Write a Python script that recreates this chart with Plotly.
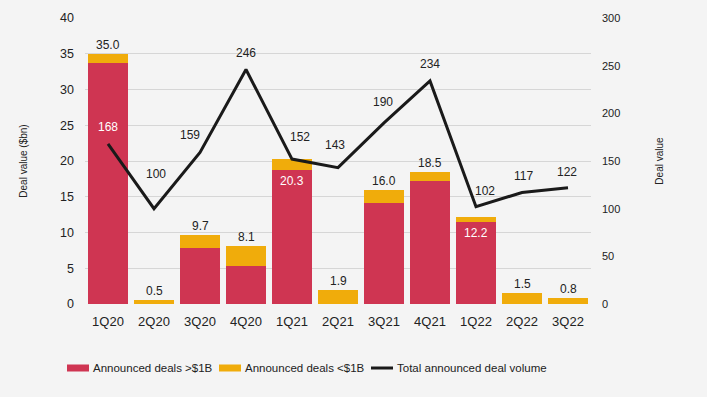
import plotly.graph_objects as go

quarters = ["1Q20", "2Q20", "3Q20", "4Q20", "1Q21", "2Q21", "3Q21", "4Q21", "1Q22", "2Q22", "3Q22"]
large_deals = [33.7, 0.0, 7.8, 5.3, 18.7, 0.0, 14.1, 17.2, 11.5, 0.0, 0.0]
small_deals = [1.3, 0.5, 1.9, 2.8, 1.6, 1.9, 1.9, 1.3, 0.7, 1.5, 0.8]
total_value = [35.0, 0.5, 9.7, 8.1, 20.3, 1.9, 16.0, 18.5, 12.2, 1.5, 0.8]
deal_volume = [168, 100, 159, 246, 152, 143, 190, 234, 102, 117, 122]
series_names = ["Announced deals >$1B", "Announced deals <$1B", "Total announced deal volume"]

RED = "#CF3552"
YELLOW = "#F0AC0B"
BLACK = "#1a1a1a"
BG = "#F4F4F4"
FONT = "Liberation Sans, Arial, sans-serif"

W, H = 707, 397
ML, MR, MT, MB = 85, 116, 18, 93
PW, PH = W - ML - MR, H - MT - MB


def px_x(px):
    return (px - ML) / PW


def px_y(py):
    return (H - MB - py) / PH


fig = go.Figure()
fig.add_trace(go.Bar(x=quarters, y=large_deals, name=series_names[0], showlegend=False,
                     marker=dict(color=RED, line=dict(width=0))))
fig.add_trace(go.Bar(x=quarters, y=small_deals, name=series_names[1], showlegend=False,
                     marker=dict(color=YELLOW, line=dict(width=0))))
fig.add_trace(go.Scatter(x=quarters, y=deal_volume, name=series_names[2],
                         mode="lines", line=dict(color=BLACK, width=3), yaxis="y2",
                         showlegend=False))

# total value labels (styling offsets)
bar_shift = [9, 9, 9, 9, -22, 9, 9, 9, -16, 9, 9]
bar_color = ["#222", "#222", "#222", "#222", "white", "#222", "#222", "#222", "white", "#222", "#222"]
for q, v, s, c in zip(quarters, total_value, bar_shift, bar_color):
    fig.add_annotation(x=q, y=v, xref="x", yref="y", text=f"{v:.1f}", showarrow=False,
                       yshift=s, font=dict(size=12, color=c, family=FONT))

# deal volume labels
vol_dx = [0, 2, -10, 0, 8, -3, -1, 0, 9, 1, -1]
vol_dy = [17, 35, 17, 16, 22, 23, 21, 17, 16, 16, 16]
vol_color = ["white"] + ["#222"] * 10
for q, v, dx, dy, c in zip(quarters, deal_volume, vol_dx, vol_dy, vol_color):
    fig.add_annotation(x=q, y=v, xref="x", yref="y2", text=str(v), showarrow=False,
                       xshift=dx, yshift=dy, font=dict(size=12, color=c, family=FONT))

# custom legend (wide short swatches as in the reference)
leg_x = [67, 219, 371]
leg_y = 368
leg_colors = [RED, YELLOW, BLACK]
for i, (lx, name, col) in enumerate(zip(leg_x, series_names, leg_colors)):
    if i < 2:
        fig.add_shape(type="rect", xref="paper", yref="paper",
                      x0=px_x(lx), x1=px_x(lx + 22), y0=px_y(leg_y + 3.5), y1=px_y(leg_y - 3.5),
                      fillcolor=col, line=dict(width=0))
    else:
        fig.add_shape(type="line", xref="paper", yref="paper",
                      x0=px_x(lx), x1=px_x(lx + 22), y0=px_y(leg_y), y1=px_y(leg_y),
                      line=dict(color=col, width=3))
    fig.add_annotation(xref="paper", yref="paper", x=px_x(lx + 24), y=px_y(leg_y),
                       xanchor="left", yanchor="middle", text=name, showarrow=False,
                       font=dict(size=11.5, family=FONT, color="#222"))

fig.update_layout(
    width=W, height=H,
    barmode="stack", bargap=0.13,
    paper_bgcolor=BG, plot_bgcolor=BG,
    margin=dict(l=ML, r=MR, t=MT, b=MB, autoexpand=False),
    font=dict(family=FONT, color="#222", size=12),
    showlegend=False, hovermode=False,
    xaxis=dict(showgrid=False, showline=False, ticks="", tickfont=dict(size=13),
               ticklabelstandoff=8),
    yaxis=dict(range=[0, 40], dtick=5, showgrid=True, gridcolor="#D6D6D6", gridwidth=1,
               zeroline=False, ticks="", tickfont=dict(size=12.5), ticklabelstandoff=10,
               title=dict(text="Deal value ($bn)", font=dict(size=10), standoff=30)),
    yaxis2=dict(range=[0, 300], dtick=50, overlaying="y", side="right", showgrid=False,
                zeroline=False, ticks="", tickfont=dict(size=11), ticklabelstandoff=10,
                title=dict(text="Deal value", font=dict(size=10), standoff=36)),
)

fig.write_html("out.html", config={"displayModeBar": False},
               post_script="document.body.style.margin='0';document.body.style.background='#F4F4F4';")
